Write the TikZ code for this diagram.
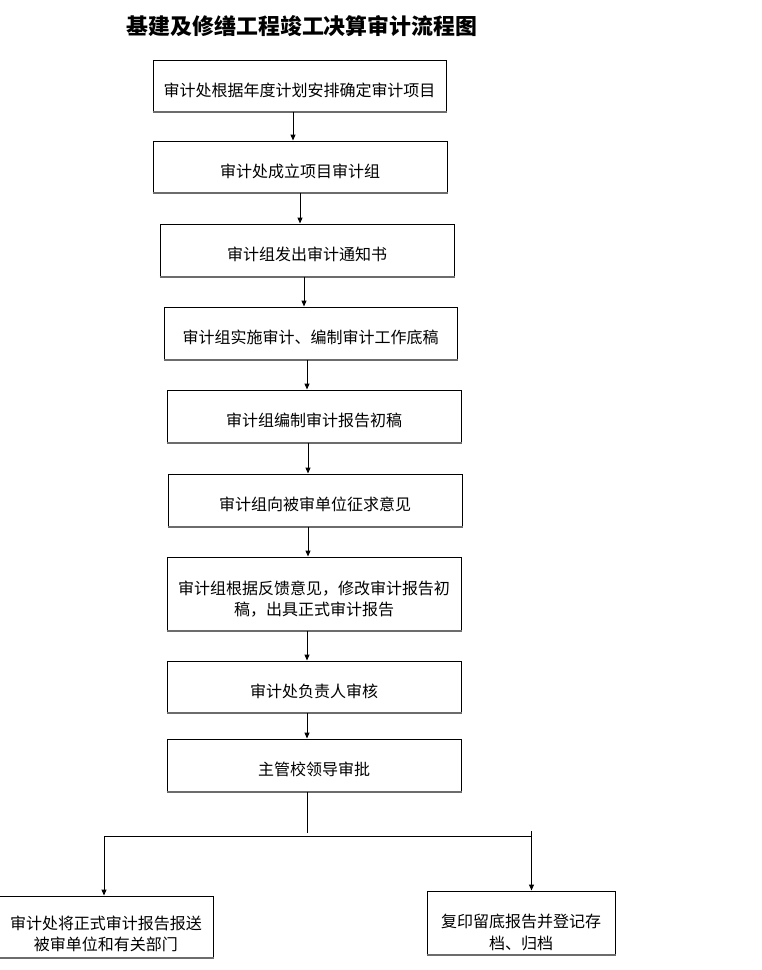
\documentclass[tikz,border=0pt]{standalone}
\usepackage{fontspec}
\setmainfont{Noto Sans CJK SC}
\usetikzlibrary{arrows.meta, positioning}

\begin{document}
\begin{tikzpicture}[
  x=1pt, y=-1pt,
  every node/.style={font=\fontsize{16}{21.5}\selectfont},
  box/.style={rectangle, draw, line width=1pt, minimum width=294pt, minimum height=52pt, inner sep=0pt, align=center,
    execute at begin node=\rule{0pt}{23pt},
    append after command={(\tikzlastnode.south west) edge[bottomline] (\tikzlastnode.south east)}},
  bottomline/.style={-, draw=gray!85!black, line width=2pt},
  arrow/.style={-{Triangle[width=5pt,length=6pt]}, line width=1pt},
  line/.style={-, line width=1pt},
  title/.style={font=\fontsize{21.9}{24}\selectfont\bfseries},
]
  \useasboundingbox (0,0) rectangle (762,970);

  \node[title] (head) at (302,26) {基建及修缮工程竣工决算审计流程图};

  \node[box, minimum width=293pt, minimum height=51pt] (plan) at (299.5,85.5) {审计处根据年度计划安排确定审计项目};
  \node[box, minimum height=51pt] (team) at (300,166.5) {审计处成立项目审计组};
  \node[box] (notice) at (307,250) {审计组发出审计通知书};
  \node[box, minimum width=293pt] (work) at (310.5,333) {审计组实施审计、编制审计工作底稿};
  \node[box] (draft) at (314,416) {审计组编制审计报告初稿};
  \node[box] (opinion) at (315,500) {审计组向被审单位征求意见};
  \node[box, minimum height=73pt, execute at begin node=\rule{0pt}{46pt}] (revise) at (314,593.5) {审计组根据反馈意见，修改审计报告初\\稿，出具正式审计报告};
  \node[box, minimum height=51pt] (review) at (314,686.5) {审计处负责人审核};
  \node[box] (approve) at (314,765) {主管校领导审批};

  \node[box, minimum width=214pt, minimum height=61pt, execute at begin node=\rule{0pt}{50pt}] (send) at (106,926.5) {审计处将正式审计报告报送\\被审单位和有关部门};
  \node[box, minimum width=188pt, minimum height=63pt, execute at begin node=\rule{0pt}{55pt}] (archive) at (521,922.5) {复印留底报告并登记存\\档、归档};

  \draw[arrow] ([xshift=-6.5pt]plan.south) -- ([xshift=-6.5pt]plan.south |- team.north);
  \draw[arrow] (team.south) -- (team.south |- notice.north);
  \draw[arrow] ([xshift=-3pt]notice.south) -- ([xshift=-3pt]notice.south |- work.north);
  \draw[arrow] ([xshift=-3.5pt]work.south) -- ([xshift=-3.5pt]work.south |- draft.north);
  \draw[arrow] ([xshift=-6pt]draft.south) -- ([xshift=-6pt]draft.south |- opinion.north);
  \draw[arrow] ([xshift=-7pt]opinion.south) -- ([xshift=-7pt]opinion.south |- revise.north);
  \draw[arrow] ([xshift=-7pt]revise.south) -- ([xshift=-7pt]revise.south |- review.north);
  \draw[arrow] ([xshift=-7pt]review.south) -- ([xshift=-7pt]review.south |- approve.north);

  % split to the two final steps
  \coordinate (stemend) at (307,833);
  \coordinate (lcorner) at (104,836.5);
  \coordinate (rcorner) at (531.5,836.5);
  \coordinate (rtop) at (531.5,831);
  \draw[line] (approve.south -| stemend) -- (stemend);
  \draw[line] (lcorner) -- (rcorner);
  \draw[arrow] (lcorner) -- (lcorner |- send.north);
  \draw[arrow] (rtop) -- (rtop |- archive.north);
\end{tikzpicture}
\end{document}
